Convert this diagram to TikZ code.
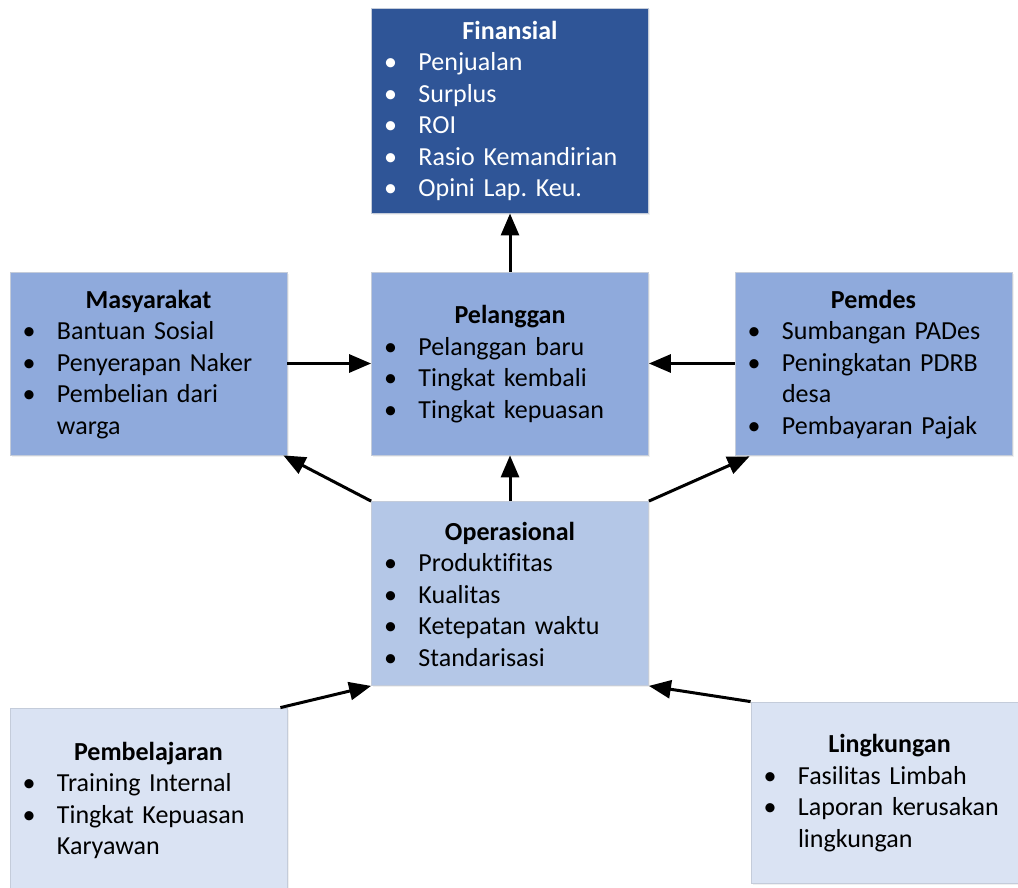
\documentclass[tikz,border=0pt]{standalone}
\usepackage{fontspec}
\setmainfont{Carlito}[Ligatures=NoCommon]
\usetikzlibrary{arrows.meta,calc,shadows}
\frenchspacing

\definecolor{darkblue}{HTML}{2F5597}
\definecolor{midblue}{HTML}{8FAADC}
\definecolor{paleblue}{HTML}{B4C7E7}
\definecolor{faintblue}{HTML}{DAE3F3}
\definecolor{edgegray}{HTML}{C4CCDA}

% title line, centred across the box
\newcommand{\ttl}[1]{\par\hbox to \hsize{\hss\textbf{#1}\hss}}
% bulleted line: bullet centred at 19pt, text from 47pt
\newcommand{\itm}[1]{\par\hbox{\hbox to 47pt{\hbox to 38pt{\hss\textbullet\hss}\hss}#1}}
% continuation of a bulleted line
\newcommand{\cnt}[1]{\par\hbox{\hskip 47pt #1}}
% extra room below the text block, lifting it a little in its box
\newcommand{\padbottom}{\par\nointerlineskip\hbox{\vrule width 0pt height 12pt}}

\begin{document}
\begin{tikzpicture}[x=1pt,y=-1pt,
  card/.style={rectangle, draw=edgegray, line width=0.8pt,
    minimum width=277pt, text width=277pt, inner sep=0pt,
    font=\fontsize{26}{31.5}\selectfont\frenchspacing,
    execute at end node=\padbottom,
    drop shadow={shadow xshift=1.5pt, shadow yshift=-1.5pt, opacity=0.12}},
  link/.style={line width=3pt, -{Triangle[length=22pt,width=18pt]}}]
\useasboundingbox (0,0) rectangle (1018,888);
\clip (0,0) rectangle (1018,888);

\node[card, fill=darkblue, text=white, minimum height=205pt] (fin) at (510,110.5) {%
  \ttl{Finansial}
  \itm{Penjualan}
  \itm{Surplus}
  \itm{ROI}
  \itm{Rasio Kemandirian}
  \itm{Opini Lap. Keu.}};

\node[card, fill=midblue, minimum height=183pt] (mas) at (148.5,363.5) {%
  \ttl{Masyarakat}
  \itm{Bantuan Sosial}
  \itm{Penyerapan Naker}
  \itm{Pembelian dari}
  \cnt{warga}};

\node[card, fill=midblue, minimum height=183pt] (pel) at (510,363.5) {%
  \ttl{Pelanggan}
  \itm{Pelanggan baru}
  \itm{Tingkat kembali}
  \itm{Tingkat kepuasan}};

\node[card, fill=midblue, minimum height=183pt] (pem) at (873.5,363.5) {%
  \ttl{Pemdes}
  \itm{Sumbangan PADes}
  \itm{Peningkatan PDRB}
  \cnt{desa}
  \itm{Pembayaran Pajak}};

\node[card, fill=paleblue, minimum height=184pt] (ope) at (510,593.5) {%
  \ttl{Operasional}
  \itm{Produktifitas}
  \itm{Kualitas}
  \itm{Ketepatan waktu}
  \itm{Standarisasi}};

\node[card, fill=faintblue, minimum height=184pt] (pbj) at (148.5,800) {%
  \ttl{Pembelajaran}
  \itm{Training Internal}
  \itm{Tingkat Kepuasan}
  \cnt{Karyawan}};

\node[card, fill=faintblue, minimum height=181pt] (lin) at (889.5,792.5) {%
  \ttl{Lingkungan}
  \itm{Fasilitas Limbah}
  \itm{Laporan kerusakan}
  \cnt{lingkungan}};

% connectors
\draw[link] (pel.north) -- (fin.south);
\draw[link] (ope.north) -- (pel.south);
\draw[link] (mas.east) -- (pel.west);
\draw[link] (pem.west) -- (pel.east);
\draw[link] (ope.north west) -- ($(mas.south east)+(-4,0)$);
\draw[link] (ope.north east) -- ($(pem.south west)+(15,1)$);
\draw[link] ($(pbj.north east)+(-7,0)$) -- (ope.south west);
\draw[link] (lin.north west) -- (ope.south east);
\end{tikzpicture}
\end{document}
